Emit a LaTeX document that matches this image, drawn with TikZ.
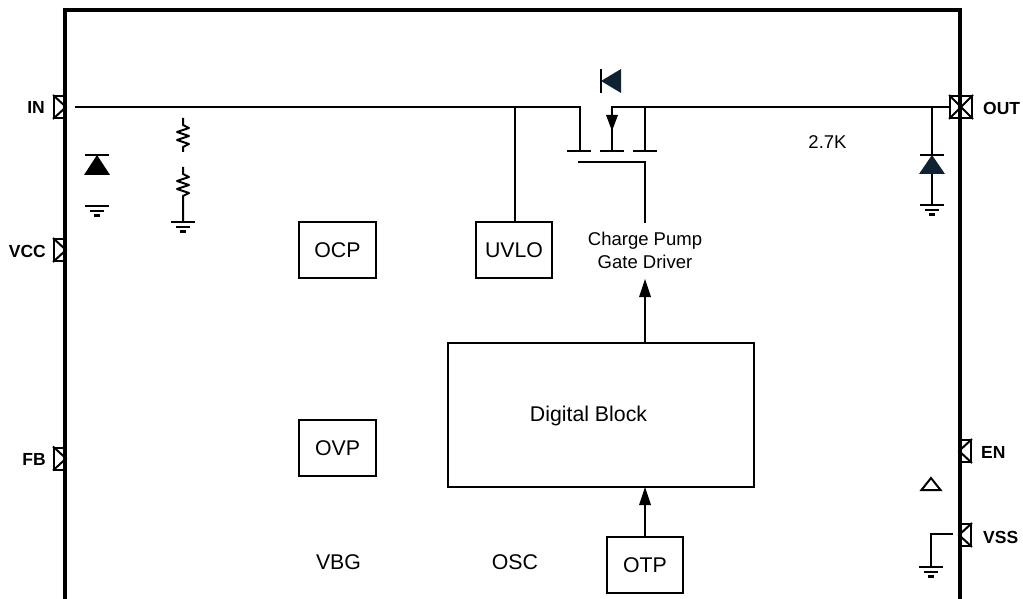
\documentclass[tikz,border=0pt]{standalone}
\usepackage{fontspec}
\setmainfont{Liberation Sans}
\definecolor{dnavy}{HTML}{0F2233}
\tikzset{
  x=1pt,y=-1pt,
  wire/.style={line width=2.2pt,line cap=butt,line join=miter},
  blockbox/.style={draw,line width=2pt,inner sep=0pt,font=\fontsize{21.3}{24}\selectfont,align=center},
  plain/.style={font=\fontsize{21.3}{24}\selectfont,inner sep=0pt},
  smalltext/.style={font=\fontsize{18.5}{24}\selectfont,inner sep=0pt,align=center},
  pinlabel/.style={font=\bfseries\fontsize{17.5}{18}\selectfont,inner sep=0pt},
  pinbox/.style={draw,line width=2pt,inner sep=0pt,minimum width=11pt,minimum height=22pt},
  pinx/.style={draw,line width=2pt,inner sep=0pt,minimum width=22pt,minimum height=22pt},
  pinmark/.style={line width=2pt},
  arrowtip/.style={fill=black,draw=none},
  grnd/.pic={
    \draw[wire] (-12,0) -- (12,0);
    \draw[wire] (-7,5) -- (7,5);
    \draw[wire] (-3,9.5) -- (3,9.5);
  }
}
\begin{document}
\begin{tikzpicture}
\useasboundingbox (0,0) rectangle (1023,599);
% chip outline
\coordinate (bl) at (65,599);
\coordinate (tl) at (65,10);
\coordinate (tr) at (960,10);
\coordinate (br) at (960,599);
\draw[line width=4pt,line join=miter] (bl) -- (tl) -- (tr) -- (br);
% pins
\node[pinbox] (pIN) at (59.5,107) {};
\node[pinbox] (pVCC) at (59.5,250) {};
\node[pinbox] (pFB) at (59.5,458.5) {};
\node[pinbox] (pEN) at (965.5,451) {};
\node[pinbox] (pVSS) at (965.5,535) {};
\node[pinx] (pOUT) at (961,107) {};
\foreach \p in {pIN,pVCC,pFB}
  \draw[pinmark] (\p.north west) -- (\p.east) -- (\p.south west);
\foreach \p in {pEN,pVSS}
  \draw[pinmark] (\p.north east) -- (\p.west) -- (\p.south east);
\draw[pinmark] (pOUT.north west) -- (pOUT.south east) (pOUT.north east) -- (pOUT.south west);
\node[pinlabel,anchor=east] (lIN) at (45,107.5) {IN};
\node[pinlabel,anchor=east] (lVCC) at (46,251) {VCC};
\node[pinlabel,anchor=east] (lFB) at (46,459) {FB};
\node[pinlabel,anchor=west] (lOUT) at (983,108) {OUT};
\node[pinlabel,anchor=west] (lEN) at (981,452) {EN};
\node[pinlabel,anchor=west] (lVSS) at (983,537) {VSS};
% blocks
\node[blockbox,minimum width=77pt,minimum height=56pt] (OCP) at (337.5,250) {OCP};
\node[blockbox,minimum width=76pt,minimum height=56pt] (UVLO) at (514,250) {UVLO};
\node[blockbox,minimum width=77pt,minimum height=56pt] (OVP) at (337.5,448) {OVP};
\node[blockbox,minimum width=306pt,minimum height=144pt] (DIG) at (601,415) {};
\node[plain] (DIGT) at (588.5,416) {Digital Block};
\node[blockbox,minimum width=76pt,minimum height=56pt] (OTP) at (645,565) {OTP};
\node[smalltext] (CP) at (645,250.5) {Charge Pump\\[-1pt]Gate Driver};
\node[plain] (VBG) at (338.5,562) {VBG};
\node[plain] (OSC) at (515,562) {OSC};
\node[smalltext] (R27) at (827.5,142) {2.7K};
% MOSFET coordinates
\coordinate (inS) at (75,107);
\coordinate (dTop) at (580,107);
\coordinate (dBot) at (580,151);
\coordinate (bTop) at (612,107);
\coordinate (bBot) at (612,151);
\coordinate (sBot) at (645,151);
\coordinate (sTop) at (645,107);
\coordinate (uvTap) at (515,107);
\coordinate (gL) at (578,162);
\coordinate (gR) at (645,162);
\coordinate (gD) at (645,223);
\coordinate (oTap) at (932,107);
\draw[wire] (inS) -- (dTop) -- (dBot);
\draw[wire] (bBot) -- (bTop) -- (pOUT.west);
\draw[wire] (sTop) -- (sBot);
\draw[wire] (uvTap) -- (UVLO.north -| uvTap);
\draw[wire] (gL) -- (gR) -- (gD);
\draw[wire] (567,151) -- (591,151);
\draw[wire] (600,151) -- (624,151);
\draw[wire] (633,151) -- (657,151);
\fill[arrowtip] (606,115) -- (618,115) -- (612,131) -- cycle;
% arrows to charge pump and digital block
\draw[wire] (DIG.north -| gD) -- (645,295);
\fill[arrowtip] (639,297) -- (651,297) -- (645,279) -- cycle;
\draw[wire] (OTP.north) -- (645,502);
\fill[arrowtip] (639,505) -- (651,505) -- (645,487) -- cycle;
% body diode
\draw[wire] (601,69) -- (601,93);
\fill[dnavy] (601,81) -- (621,69) -- (621,93) -- cycle;
% left diode and ground
\draw[wire] (85,155) -- (109,155);
\fill[black] (97,155) -- (110,175) -- (84,175) -- cycle;
\coordinate (gndL) at (97,206);
\pic at (gndL) {grnd};
% resistors
\coordinate (r1t) at (183,118);
\coordinate (r1b) at (183,152);
\coordinate (r2t) at (183,167);
\coordinate (r2b) at (183,222);
\draw[line width=2pt,line join=round] (r1t) -- (183,125) -- (189,128) -- (177,132) -- (189,136) -- (177,140) -- (189,144) -- (183,147) -- (r1b);
\draw[line width=2pt,line join=round] (r2t) -- (183,174) -- (189,177) -- (177,181) -- (189,185) -- (177,189) -- (189,193) -- (183,196) -- (r2b);
\pic at (r2b) {grnd};
% output diode and ground
\coordinate (gndO) at (932,205);
\draw[wire] (oTap) -- (gndO);
\draw[wire] (920,155) -- (944,155);
\fill[dnavy] (932,155) -- (945,174) -- (919,174) -- cycle;
\pic at (gndO) {grnd};
% EN triangle
\draw[line width=2pt,line join=miter] (931,478) -- (940.5,490) -- (921.5,490) -- cycle;
% VSS ground
\coordinate (vssE) at (953,534);
\coordinate (vssC) at (931,534);
\coordinate (gndV) at (931,567);
\draw[wire] (vssE) -- (vssC) -- (gndV);
\pic at (gndV) {grnd};
\end{tikzpicture}
\end{document}
